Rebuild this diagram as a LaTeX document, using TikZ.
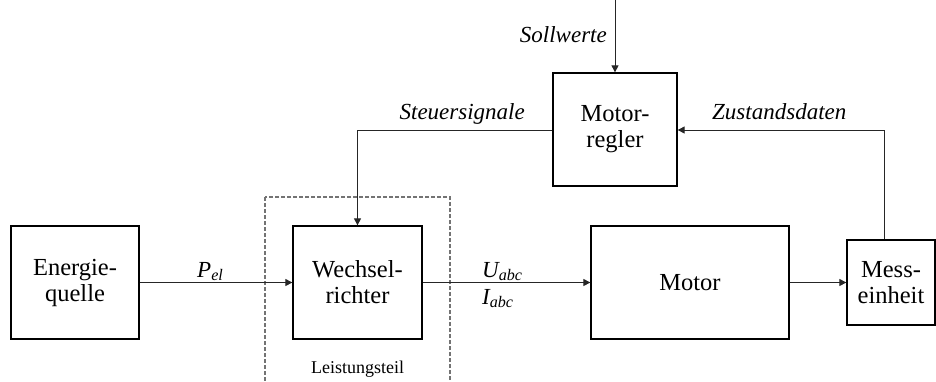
\documentclass[tikz,border=0pt]{standalone}
\usepackage{fontspec}
\setmainfont{Liberation Serif}
\usetikzlibrary{arrows.meta}
\tikzset{
  blk/.style={draw=black, line width=1.3pt, inner sep=0pt, align=center,
    font=\fontsize{24.5}{26}\selectfont},
  conn/.style={draw=black!85, line width=1pt},
  arr/.style={conn, -{Triangle[length=7pt,width=7pt]}},
  lbl/.style={inner sep=0pt, font=\fontsize{23}{26}\selectfont\itshape},
}
\begin{document}
\begin{tikzpicture}[x=1pt,y=-1pt]
\path[use as bounding box] (0,0) rectangle (936,381);
\clip (0,0) rectangle (936,381);
% dashed power-part frame
\draw[black!55, line width=1.2pt, dash pattern=on 4pt off 2pt] (265,197) rectangle (450,400);
\node[inner sep=0pt, anchor=base, font=\fontsize{18}{20}\selectfont] (lt) at (357.5,373) {Leistungsteil};
% blocks
\node[blk, minimum width=128pt, minimum height=113pt] (eq) at (75,282.5) {Energie-\\quelle};
\node[blk, minimum width=129pt, minimum height=113pt] (wr) at (357.5,282.5) {Wechsel-\\richter};
\node[blk, minimum width=198pt, minimum height=113pt] (mo) at (690,282.5) {Motor};
\node[blk, minimum width=88pt, minimum height=85pt] (me) at (891,282.5) {Mess-\\einheit};
\node[blk, minimum width=124pt, minimum height=113pt] (mr) at (615,129.5) {Motor-\\regler};
% connectors
\coordinate (top) at (615,0);
\coordinate (sc) at (357.5,130);
\coordinate (zc) at (884,130);
\draw[arr] (eq.east) -- (wr.west);
\draw[arr] (wr.east) -- (mo.west);
\draw[arr] (mo.east) -- (me.west);
\draw[arr] (top) -- (mr.north);
\draw[arr] (mr.west |- sc) -- (sc) -- (wr.north);
\draw[arr] (me.north -| zc) -- (zc) -- (mr.east |- zc);
% labels
\node[lbl, anchor=base west] (pel) at (197,277) {P\textsubscript{el}};
\node[lbl, anchor=base west] (uabc) at (482,277) {U\textsubscript{abc}};
\node[lbl, anchor=base west] (iabc) at (482,304) {I\textsubscript{abc}};
\node[lbl, anchor=base east] (sw) at (607,42) {Sollwerte};
\node[lbl, anchor=base east] (ss) at (525,119) {Steuersignale};
\node[lbl, anchor=base west] (zd) at (712,119) {Zustandsdaten};
\end{tikzpicture}
\end{document}
